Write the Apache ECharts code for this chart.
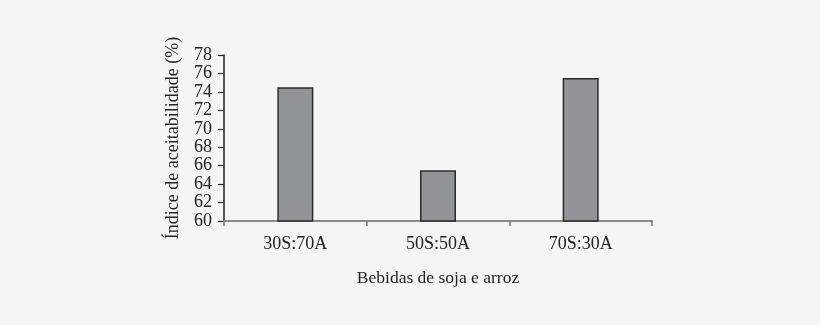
<!DOCTYPE html>
<html><head><meta charset="utf-8">
<script src="https://cdn.jsdelivr.net/npm/echarts@6/dist/echarts.min.js"></script>
<style>html,body{margin:0;padding:0;background:#f5f5f5;}#c{width:820px;height:325px;}</style>
</head><body><div id="c"></div>
<script>
const categories = ['30S:70A', '50S:50A', '70S:30A'];
const values = [74.5, 65.5, 75.5];
const yTicks = { min: 60, max: 78, interval: 2 };
const xName = 'Bebidas de soja e arroz';
const yName = 'Índice de aceitabilidade (%)';

const font = '"Liberation Serif", "DejaVu Serif", serif';
const chart = echarts.init(document.getElementById('c'), null, { renderer: 'canvas' });
chart.setOption({
  backgroundColor: '#f5f5f5',
  animation: false,
  grid: { left: 224, top: 55, width: 428, height: 166, containLabel: false },
  xAxis: {
    type: 'category', data: categories,
    name: xName, nameLocation: 'middle', nameGap: 48,
    nameTextStyle: { fontFamily: font, fontSize: 17.5, color: '#222' },
    axisLine: { lineStyle: { color: '#8a8a8a', width: 2 } },
    axisTick: { show: true, alignWithLabel: false, length: 5, lineStyle: { color: '#777', width: 1.5 } },
    axisLabel: { fontFamily: font, fontSize: 18, color: '#222', margin: 14 }
  },
  yAxis: {
    type: 'value', min: yTicks.min, max: yTicks.max, interval: yTicks.interval,
    name: yName, nameLocation: 'middle', nameGap: 42, nameRotate: 90,
    nameTextStyle: { fontFamily: font, fontSize: 18, color: '#222' },
    axisLine: { show: true, lineStyle: { color: '#222', width: 1.5 } },
    axisTick: { show: true, length: 6, lineStyle: { color: '#222', width: 1.2 } },
    axisLabel: { fontFamily: font, fontSize: 18, color: '#222', margin: 12 },
    splitLine: { show: false }
  },
  series: [{
    type: 'bar', data: values, barWidth: 36,
    itemStyle: { color: '#939497', borderColor: '#2a2a2a', borderWidth: 1.5 }
  }]
});
</script></body></html>
